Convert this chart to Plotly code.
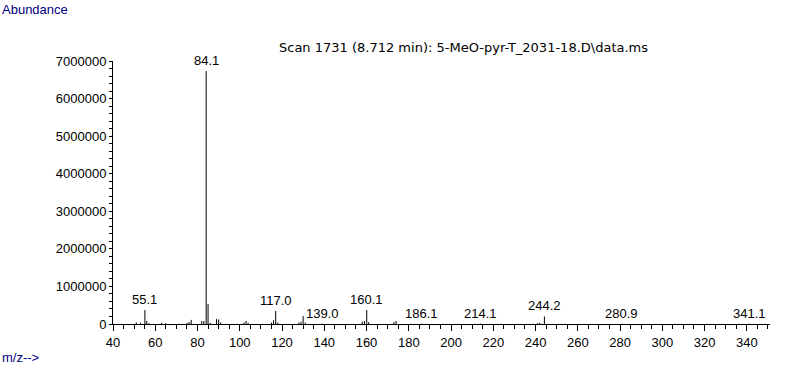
import plotly.graph_objects as go

# m/z values and abundances
mz = [51.0, 53.0, 55.1, 56.0, 57.0, 63.0, 65.0, 75.0, 76.0, 77.0, 82.0, 83.0,
      84.1, 85.0, 86.0, 89.0, 90.0, 91.0, 102.0, 103.0, 104.0, 115.0, 116.0,
      117.0, 118.0, 128.0, 129.0, 130.0, 131.0, 139.0, 158.0, 159.0, 160.1,
      161.0, 173.0, 174.0, 186.1, 214.1, 241.0, 242.0, 244.2, 280.9, 341.1]
abundance = [40000, 30000, 370000, 80000, 20000, 30000, 20000, 30000, 50000,
             110000, 80000, 80000, 6730000, 530000, 30000, 130000, 120000,
             40000, 40000, 80000, 30000, 40000, 100000, 350000, 40000, 40000,
             60000, 210000, 40000, 10000, 60000, 80000, 370000, 50000, 50000,
             80000, 10000, 10000, 20000, 30000, 200000, 8000, 8000]

labeled_mz = [55.1, 84.1, 117.0, 139.0, 160.1, 186.1, 214.1, 244.2, 280.9, 341.1]

title_text = "Scan 1731 (8.712 min): 5-MeO-pyr-T_2031-18.D\\data.ms"
x_ticks = list(range(40, 341, 20))
y_ticks = list(range(0, 7000001, 1000000))

xs, ys = [], []
for m, a in zip(mz, abundance):
    xs += [m, m, None]
    ys += [0, a, None]

fig = go.Figure()
fig.add_trace(go.Scatter(x=xs, y=ys, mode="lines",
                         line=dict(color="black", width=1),
                         hoverinfo="skip", showlegend=False))

FONT = "Liberation Sans, Arial, sans-serif"
for m in labeled_mz:
    a = abundance[mz.index(m)]
    fig.add_annotation(x=m, y=a, text=f"{m:.1f}", showarrow=False,
                       xanchor="center", yanchor="bottom", yshift=1,
                       font=dict(family=FONT, size=13, color="black"))

fig.add_annotation(xref="paper", yref="paper", x=0.533, y=1.0, yshift=14,
                   text=title_text, showarrow=False, xanchor="center",
                   yanchor="middle",
                   font=dict(family="DejaVu Sans, sans-serif", size=13, color="black"))
fig.add_annotation(xref="paper", yref="paper", x=0, y=1, text="Abundance",
                   showarrow=False, xanchor="left", yanchor="top",
                   xshift=-113, yshift=61,
                   font=dict(family=FONT, size=13, color="#000080"))
fig.add_annotation(xref="paper", yref="paper", x=0, y=0, text="m/z-->",
                   showarrow=False, xanchor="left", yanchor="middle",
                   xshift=-113, yshift=-33,
                   font=dict(family=FONT, size=13, color="#000080"))

fig.update_layout(
    width=787, height=367,
    margin=dict(l=113, r=17, t=61, b=43, pad=0),
    paper_bgcolor="white", plot_bgcolor="white",
    showlegend=False,
    xaxis=dict(range=[40, 351], tickvals=x_ticks, ticktext=[str(v) for v in x_ticks],
               showline=True, linecolor="black", linewidth=1,
               ticks="outside", ticklen=6, tickcolor="black", tickwidth=1,
               minor=dict(dtick=5, tick0=40, ticks="outside", ticklen=4,
                          tickcolor="black", tickwidth=1),
               showgrid=False, zeroline=False,
               tickfont=dict(family=FONT, size=13, color="black")),
    yaxis=dict(range=[0, 7000000], tickvals=y_ticks, ticktext=[str(v) for v in y_ticks],
               showline=True, linecolor="black", linewidth=1,
               ticks="outside", ticklen=3, tickcolor="black", tickwidth=1,
               minor=dict(dtick=200000, tick0=0, ticks="outside", ticklen=3,
                          tickcolor="black", tickwidth=1),
               showgrid=False, zeroline=False,
               tickfont=dict(family=FONT, size=13, color="black")),
)

fig.write_html("out.html")
